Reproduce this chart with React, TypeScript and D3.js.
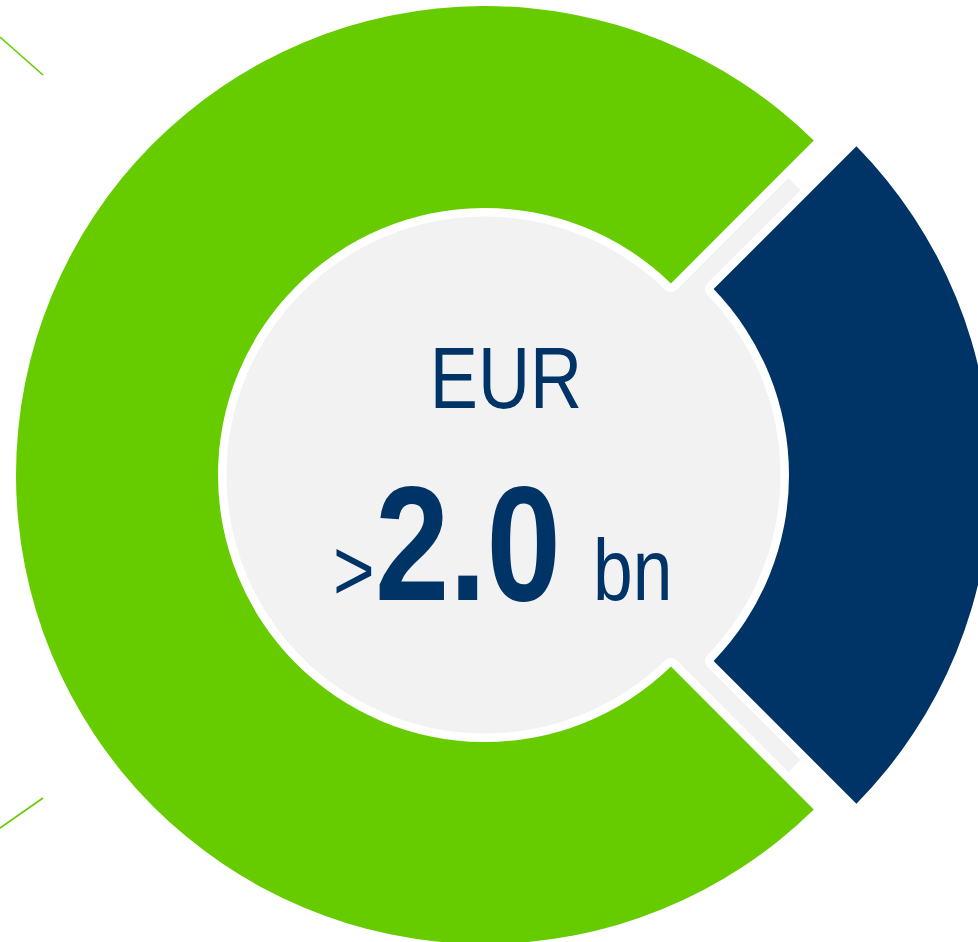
import React from "react";
import * as d3 from "d3";

// ---- data ----
const segmentNames = ["Highlighted", "Rest"];
const segmentValues = [25, 75];
const segmentColors = ["#003466", "#66cc00"];
const explodeOffsets = [37, 0];
const titleText = "EUR";
const prefixText = ">";
const valueText = "2.0";
const unitText = "bn";

const W = 978;
const H = 942;
const cx = 485;
const cy = 475;
const outerR = 469;
const innerR = 267;
const backR = 425;

export default function App() {
  const pie = d3
    .pie<number>()
    .sort(null)
    .startAngle(Math.PI / 4)
    .endAngle(Math.PI / 4 + 2 * Math.PI);
  const arcs = pie(segmentValues);
  const arcGen = d3
    .arc<d3.PieArcDatum<number>>()
    .innerRadius(innerR)
    .outerRadius(outerR)
    .padRadius(100)
    .padAngle(0.08);

  const sx = 0.82;
  return (
    <svg
      width={W}
      height={H}
      style={{ display: "block", position: "fixed", left: 0, top: 0 }}
    >
      <rect width={W} height={H} fill="#ffffff" />
      <line x1={0} y1={37} x2={43} y2={75} stroke="#66cc00" strokeWidth={1.6} />
      <line x1={0} y1={828} x2={43} y2={798} stroke="#66cc00" strokeWidth={1.6} />
      <g transform={`translate(${cx},${cy})`}>
        <circle r={backR} fill="#f2f2f2" />
        {arcs.map((a, i) => {
          const mid = (a.startAngle + a.endAngle) / 2;
          const dx = Math.sin(mid) * explodeOffsets[i];
          const dy = -Math.cos(mid) * explodeOffsets[i];
          return (
            <g key={segmentNames[i]} transform={`translate(${dx},${dy})`}>
              <path
                d={arcGen(a) || ""}
                fill="#ffffff"
                stroke="#ffffff"
                strokeWidth={17}
                strokeLinejoin="round"
              />
            </g>
          );
        })}
        {arcs.map((a, i) => {
          const mid = (a.startAngle + a.endAngle) / 2;
          const dx = Math.sin(mid) * explodeOffsets[i];
          const dy = -Math.cos(mid) * explodeOffsets[i];
          return (
            <g key={segmentNames[i] + "f"} transform={`translate(${dx},${dy})`}>
              <path d={arcGen(a) || ""} fill={segmentColors[i]} />
            </g>
          );
        })}
      </g>
      <g fill="#003466" fontFamily="'Liberation Sans', Arial, sans-serif">
        <text transform={`translate(506,408) scale(${sx},1)`} textAnchor="middle" fontSize={88}>
          {titleText}
        </text>
        <text transform={`translate(333,600) scale(${sx},1)`} fontSize={87}>
          {prefixText}
        </text>
        <text transform={`translate(375,600) scale(${sx},1)`} fontSize={163} fontWeight="bold">
          {valueText}
        </text>
        <text transform={`translate(593,600) scale(${sx},1)`} fontSize={87}>
          {unitText}
        </text>
      </g>
    </svg>
  );
}
